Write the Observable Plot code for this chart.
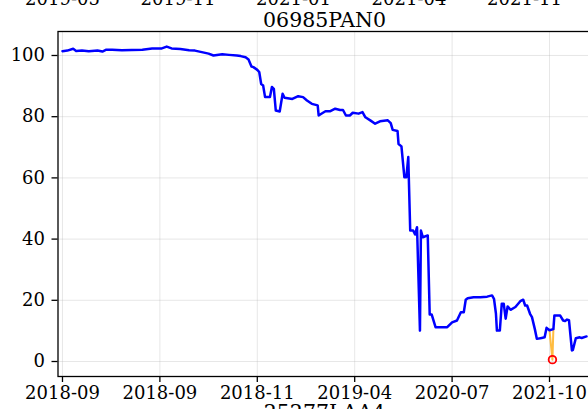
<!DOCTYPE html>
<html><head><meta charset="utf-8">
<script src="https://cdn.jsdelivr.net/npm/d3@7"></script>
<script src="https://cdn.jsdelivr.net/npm/@observablehq/plot@0.6"></script>
<style>
html,body{margin:0;padding:0;overflow:hidden;background:#fff;}
#wrap{position:relative;width:588px;height:409px;overflow:hidden;}
#upper{position:absolute;left:0;top:-38.3px;}
</style></head><body><div id="wrap"><div id="main"></div><div id="upper"></div></div>
<script>
// observation index (x) and price (y) of the series
const obsIndex = [0,5,11,14,20,27,36,41,45,51,61,71,82,92,102,107,112,121,130,136,143,150,155,164,171,179,183,188,191,194,196,200,202,204,206,208,213,215,217,219,223,226,228,236,242,247,251,256,262,263,267,270,275,280,285,288,291,295,298,304,308,311,316,321,326,334,337,339,344,345,348,351,353,355,357,360,362,364,367,368,370,375,377,379,383,395,400,405,409,412,414,416,422,429,436,441,443,445,446,449,451,453,455,457,460,465,470,473,475,477,480,482,485,487,492,495,497,500,504,505,511,514,516,518,520,523,524,527,531,533,538];
const price = [101.4,101.6,102.2,101.5,101.6,101.4,101.6,101.3,101.9,101.9,101.7,101.8,101.9,102.3,102.3,102.9,102.3,102.1,101.7,101.6,101.1,100.6,100.0,100.4,100.2,100.0,99.8,99.4,98.7,96.4,96.2,95.3,94.6,90.7,90.2,86.4,86.4,89.7,89.1,82.0,81.7,87.5,86.2,85.8,86.7,86.4,85.3,84.2,83.7,80.4,81.2,81.8,81.8,82.6,82.2,82.2,80.4,80.4,81.3,81.0,81.5,79.8,78.8,77.7,78.5,78.8,77.9,75.7,75.3,71.1,70.3,60.2,60.2,66.8,42.8,42.8,41.5,43.9,10.1,42.8,40.6,41.2,15.4,15.4,11.2,11.2,12.8,13.4,16.1,16.1,20.2,20.7,21.0,21.0,21.2,21.6,20.5,15.7,10.1,10.1,18.9,18.9,14.0,18.0,16.9,17.8,19.7,20.2,18.3,18.3,15.6,14.5,10.5,7.4,7.7,7.9,11.0,10.2,10.6,15.0,15.0,13.4,13.2,13.7,13.5,3.6,3.8,7.6,7.9,7.7,8.2];
const anomalyIndex = [503];
const anomalyPrice = [0.6];

const xTickPos = [0,100,200,300,400,500];
const xTickLabels = ["2018-09","2018-09","2018-11","2019-04","2020-07","2021-10"];
const yTicks = [0,20,40,60,80,100];
const chartTitle = "06985PAN0";
const nextTitle = "25277LAA4";
const upperTickPos = [0,100,200,300,400];
const upperTickLabels = ["2019-05","2019-11","2021-01","2021-04","2021-11"];

const series = obsIndex.map((i, k) => ({i, v: price[k]}));
const anomalies = anomalyIndex.map((i, k) => ({i, v: anomalyPrice[k]}));
// orange segments: previous point -> anomaly -> next point
const orange = [];
anomalies.forEach((a, g) => {
  let prev = null, next = null;
  for (const d of series) { if (d.i < a.i) prev = d; else if (d.i > a.i && !next) next = d; }
  if (prev) orange.push({...prev, g});
  orange.push({...a, g});
  if (next) orange.push({...next, g});
});

const font = "'DejaVu Serif', serif";

const main = Plot.plot({
  width: 588, height: 409,
  marginLeft: 57.5, marginRight: -2.5, marginTop: 31, marginBottom: 33,
  style: {fontFamily: font, fontSize: "18px", background: "white", overflow: "visible", color: "black"},
  x: {domain: [-4.6, 542.6], axis: null},
  y: {domain: [-4.9, 107.84], axis: null},
  marks: [
    Plot.gridX(xTickPos, {stroke: "#b0b0b0", strokeOpacity: 0.3, strokeWidth: 1}),
    Plot.gridY(yTicks, {stroke: "#b0b0b0", strokeOpacity: 0.3, strokeWidth: 1}),
    Plot.line(orange, {x: "i", y: "v", z: "g", stroke: "#ffa500", strokeOpacity: 0.75, strokeWidth: 2}),
    Plot.line(series, {x: "i", y: "v", stroke: "#0000ff", strokeWidth: 2.5}),
    Plot.dot(anomalies, {x: "i", y: "v", r: 3.8, stroke: "red", fill: "none", strokeWidth: 1.8}),
    Plot.frame({stroke: "black", strokeWidth: 1.3}),
    Plot.axisX({ticks: xTickPos, tickFormat: d => xTickLabels[xTickPos.indexOf(d)], tickSize: 6, tickPadding: 3.5, strokeWidth: 1.3, label: null, fontSize: 18}),
    Plot.axisY({ticks: yTicks, tickSize: 6, tickPadding: 7, strokeWidth: 1.3, label: null, fontSize: 18}),
    Plot.text([chartTitle], {text: d => d, frameAnchor: "top", lineAnchor: "middle", dy: -10.9, fontSize: 20.5, fill: "black"}),
    Plot.text([nextTitle], {text: d => d, frameAnchor: "bottom", lineAnchor: "middle", dy: 36, fontSize: 20.5, fill: "black"})
  ]
});
document.getElementById("main").appendChild(main);

const upper = Plot.plot({
  width: 588, height: 40,
  marginLeft: 62, marginRight: 64, marginTop: 0, marginBottom: 20,
  style: {fontFamily: font, fontSize: "18px", background: "none", overflow: "visible", color: "black"},
  x: {domain: [0, 400], axis: null},
  marks: [
    Plot.axisX({ticks: upperTickPos, tickFormat: d => upperTickLabels[upperTickPos.indexOf(d)], tickSize: 6, tickPadding: 3.5, strokeWidth: 1.3, label: null, fontSize: 18})
  ]
});
document.getElementById("upper").appendChild(upper);
</script></body></html>
